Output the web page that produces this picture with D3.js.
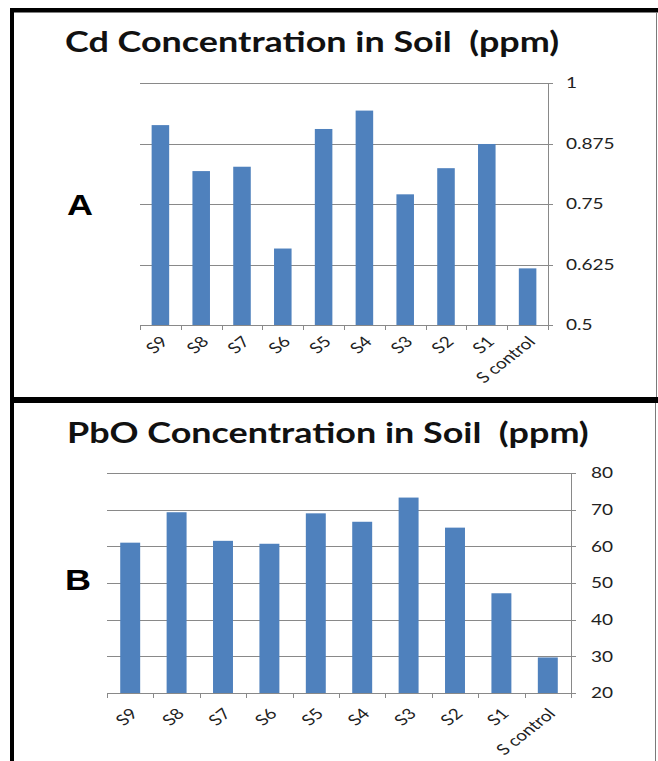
<!DOCTYPE html>
<html>
<head>
<meta charset="utf-8">
<script src="https://cdn.jsdelivr.net/npm/d3@7"></script>
<style>
  body { margin: 0; background: #ffffff; }
  svg { display: block; }
</style>
</head>
<body>
<svg id="chart" width="658" height="761"></svg>
<script>
// the sample names, same order for both charts
const categories = ["S9", "S8", "S7", "S6", "S5", "S4", "S3", "S2", "S1", "S control"];

const cdValues = [0.913, 0.818, 0.827, 0.658, 0.905, 0.943, 0.770, 0.824, 0.874, 0.617];
const cdTicks = [0.5, 0.625, 0.75, 0.875, 1];

const pboValues = [61.0, 69.3, 61.5, 60.7, 69.0, 66.7, 73.3, 65.1, 47.2, 29.7];
const pboTicks = [20, 30, 40, 50, 60, 70, 80];

const barColor = "#4f81bd";
const gridColor = "#898989";
const textFont = "Lato, 'Open Sans', sans-serif";
const SX = 1.27; // the picture is stretched sideways, text follows it

const svg = d3.select("#chart");

// frame round the two panels
svg.append("rect").attr("x", 10).attr("y", 8).attr("width", 648).attr("height", 4.5).attr("fill", "#000");
svg.append("rect").attr("x", 10).attr("y", 8).attr("width", 4).attr("height", 753).attr("fill", "#000");
svg.append("rect").attr("x", 10).attr("y", 397).attr("width", 648).attr("height", 6).attr("fill", "#000");
svg.append("line").attr("x1", 656.5).attr("x2", 656.5).attr("y1", 12).attr("y2", 397)
   .attr("stroke", "#7a7a7a").attr("stroke-width", 1);
svg.append("line").attr("x1", 655.5).attr("x2", 655.5).attr("y1", 403).attr("y2", 761)
   .attr("stroke", "#7a7a7a").attr("stroke-width", 1);

function drawPanel(p) {
  let g = svg.append("g");
  let x = d3.scaleBand().domain(categories).range([p.left, p.right]).padding(0);
  let y = d3.scaleLinear().domain([p.ticks[0], p.ticks[p.ticks.length - 1]]).range([p.bottom, p.top]);
  let bw = x.bandwidth() * 0.43;

  // gridlines
  g.selectAll(".grid").data(p.ticks).enter().append("line")
    .attr("x1", p.left).attr("x2", p.right + 5)
    .attr("y1", d => Math.round(y(d)) + 0.5).attr("y2", d => Math.round(y(d)) + 0.5)
    .attr("stroke", gridColor).attr("stroke-width", 1);

  // bars
  g.selectAll(".bar").data(p.values).enter().append("rect")
    .attr("x", (d, i) => x(categories[i]) + (x.bandwidth() - bw) / 2)
    .attr("y", d => y(d))
    .attr("width", bw)
    .attr("height", d => p.bottom - y(d))
    .attr("fill", barColor);

  // right axis line
  g.append("line").attr("x1", p.right + 0.5).attr("x2", p.right + 0.5)
    .attr("y1", p.top).attr("y2", p.bottom + 5)
    .attr("stroke", gridColor);

  // bottom ticks at the category edges
  let edges = categories.map(c => x(c)).concat([p.right]);
  g.selectAll(".xtick").data(edges).enter().append("line")
    .attr("x1", d => Math.round(d) + 0.5).attr("x2", d => Math.round(d) + 0.5)
    .attr("y1", p.bottom).attr("y2", p.bottom + 5)
    .attr("stroke", gridColor);

  // y tick labels
  g.selectAll(".ylab").data(p.ticks).enter().append("g")
    .attr("transform", d => `translate(${p.labelX},${y(d)}) scale(${SX},1)`)
    .append("text")
    .attr("dy", "0.36em")
    .attr("font-family", textFont).attr("font-size", 15).attr("fill", "#222")
    .text(d => d);

  // category labels, slanted
  g.selectAll(".xlab").data(categories).enter().append("g")
    .attr("transform", d => `translate(${x(d) + x.bandwidth() / 2 + 4},${p.bottom + p.labelDy}) scale(${SX},1)`)
    .append("text")
    .attr("transform", "rotate(-45)")
    .attr("text-anchor", "end")
    .attr("dy", "0.35em")
    .attr("font-family", textFont).attr("font-size", 15).attr("fill", "#222")
    .text(d => d);

  // title
  svg.append("g").attr("transform", `translate(${p.titleX},${p.titleY}) scale(${SX},1)`)
    .append("text")
    .attr("font-family", textFont).attr("font-weight", "bold").attr("font-size", 28.3).attr("fill", "#111")
    .attr("xml:space", "preserve")
    .text(p.title);

  // panel letter
  svg.append("g").attr("transform", `translate(${p.letterX},${p.letterY}) scale(1.2,1)`)
    .append("text")
    .attr("font-family", "'Liberation Sans', Arial, sans-serif").attr("font-weight", "bold")
    .attr("font-size", 30).attr("fill", "#000")
    .text(p.letter);
}

drawPanel({
  values: cdValues, ticks: cdTicks,
  left: 140, right: 548, top: 83, bottom: 325,
  labelX: 566, labelDy: 14,
  title: "Cd Concentration in Soil  (ppm)", titleX: 65, titleY: 52,
  letter: "A", letterX: 67, letterY: 215
});

drawPanel({
  values: pboValues, ticks: pboTicks,
  left: 107, right: 571, top: 473, bottom: 693,
  labelX: 591, labelDy: 18,
  title: "PbO Concentration in Soil  (ppm)", titleX: 67, titleY: 443,
  letter: "B", letterX: 65, letterY: 590
});
</script>
</body>
</html>
